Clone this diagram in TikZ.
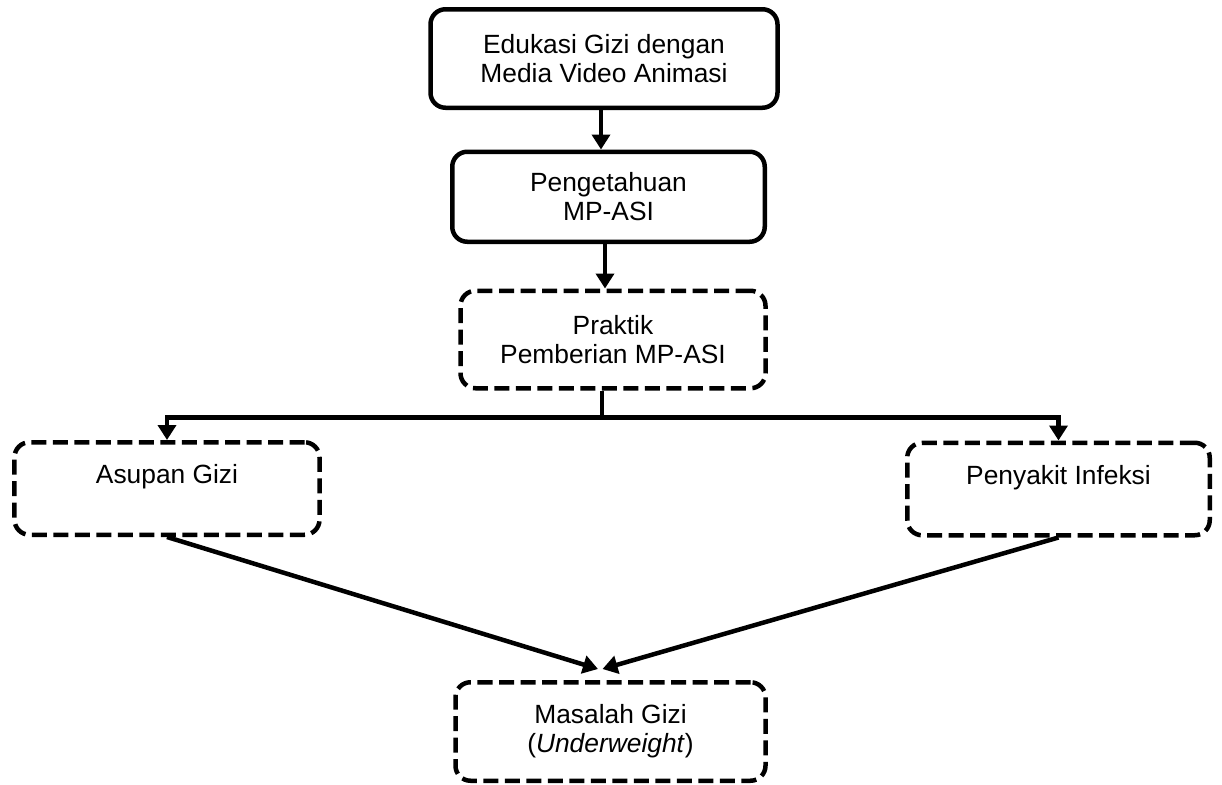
\documentclass[tikz,border=0pt]{standalone}
\usepackage{fontspec}
\setmainfont{Liberation Sans}
\usetikzlibrary{arrows.meta,positioning}

\begin{document}
\begin{tikzpicture}[->,>={Triangle[length=0.3cm,width=0.36cm]},line width=0.09cm,
        box/.style={draw,rounded corners=0.3cm,align=center,inner sep=0pt,
          font=\fontsize{15}{16.5}\selectfont},
        dashbox/.style={box,dash pattern=on 0.3cm off 0.13cm}]

  \useasboundingbox (0,0) rectangle (24.44,-15.7);

  \node[box,minimum width=6.94cm,minimum height=1.97cm] (edukasi) at (12.08,-1.17)
        {Edukasi Gizi dengan\\Media Video Animasi};
  \node[box,minimum width=6.25cm,minimum height=1.8cm] (pengetahuan)
        [below=0.79cm of edukasi,xshift=0.09cm] {Pengetahuan\\MP-ASI};
  \node[dashbox,minimum width=6.1cm,minimum height=1.95cm] (praktik)
        [below=0.89cm of pengetahuan,xshift=0.09cm] {Praktik\\Pemberian MP-ASI};
  \node[dashbox,minimum width=6.1cm,minimum height=1.85cm] (asupan) at (3.34,-9.77)
        {Asupan Gizi\\~};
  \node[dashbox,minimum width=6.05cm,minimum height=1.85cm] (penyakit) at (21.17,-9.78)
        {Penyakit Infeksi\\~};
  \node[dashbox,minimum width=6.2cm,minimum height=1.97cm] (masalah) at (12.21,-14.63)
        {Masalah Gizi\\(\textit{Underweight})};

  \draw (edukasi.south -| 12.02,0) -- (pengetahuan.north -| 12.02,0);
  \draw (pengetahuan.south -| 12.1,0) -- (praktik.north -| 12.1,0);
  \draw (praktik.south -| 12.04,0) -- ++(0,-0.535) -| (asupan.north);
  \draw (praktik.south -| 12.04,0) -- ++(0,-0.535) -| (penyakit.north);
  \draw (asupan.south) -- ([xshift=-0.25cm,yshift=0.22cm]masalah.north);
  \draw (penyakit.south) -- ([xshift=-0.16cm,yshift=0.22cm]masalah.north);

\end{tikzpicture}
\end{document}
